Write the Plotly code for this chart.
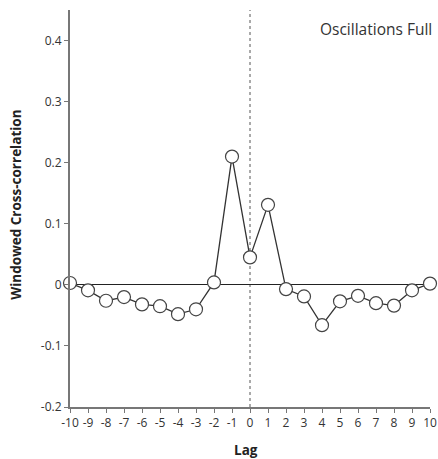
import plotly.graph_objects as go

lags = list(range(-10, 11))
xcorr = [0.003, -0.009, -0.026, -0.020, -0.032, -0.035, -0.048, -0.040, 0.004, 0.210,
         0.045, 0.131, -0.007, -0.019, -0.066, -0.027, -0.018, -0.030, -0.034, -0.009, 0.002]
ytick_vals = [-0.2, -0.1, 0, 0.1, 0.2, 0.3, 0.4]
ytick_text = ["-0.2", "-0.1", "0", "0.1", "0.2", "0.3", "0.4"]

font_family = "Open Sans, Liberation Sans, sans-serif"

fig = go.Figure()
fig.add_trace(go.Scatter(
    x=lags, y=xcorr, mode="lines+markers",
    line=dict(color="#333333", width=1.3),
    marker=dict(symbol="circle", size=13, color="white",
                line=dict(color="#444444", width=1.2)),
    cliponaxis=False, showlegend=False,
))

fig.add_shape(type="line", xref="x", yref="paper", x0=0, x1=0, y0=0, y1=1,
              line=dict(color="#555555", width=1, dash="dot"), layer="below")

fig.add_annotation(text="Oscillations Full", xref="paper", yref="paper",
                   x=1.012, y=0.985, xanchor="right", yanchor="top", showarrow=False,
                   font=dict(family=font_family, size=15.5, color="#333333"))

fig.add_annotation(text="<b>Lag</b>", xref="paper", yref="paper",
                   x=0.49, y=-0.108, xanchor="center", yanchor="middle", showarrow=False,
                   font=dict(family=font_family, size=13.5, color="#222222"))

fig.add_annotation(text="<b>Windowed Cross-correlation</b>", xref="paper", yref="paper",
                   x=-0.152, y=0.51, xanchor="center", yanchor="middle", showarrow=False,
                   textangle=-90,
                   font=dict(family=font_family, size=13.5, color="#222222"))

fig.update_layout(
    width=438, height=459,
    margin=dict(l=70, r=8, t=10, b=52),
    plot_bgcolor="white", paper_bgcolor="white",
    font=dict(family=font_family, size=12, color="#333333"),
    xaxis=dict(
        range=[-10, 10], tickmode="array", tickvals=lags,
        ticktext=[str(v) for v in lags], automargin=False,
        showline=True, linecolor="#777777", linewidth=2,
        ticks="outside", ticklen=4, tickcolor="#777777", tickwidth=1,
        showgrid=False, zeroline=False,
    ),
    yaxis=dict(
        range=[-0.2, 0.45], tickmode="array", tickvals=ytick_vals, ticktext=ytick_text,
        automargin=False,
        showline=True, linecolor="#777777", linewidth=2,
        ticks="outside", ticklen=4, tickcolor="#777777", tickwidth=1,
        showgrid=False, zeroline=True, zerolinecolor="#222222", zerolinewidth=1,
    ),
)

fig.write_html("out.html", config={"displayModeBar": False},
               post_script="document.body.style.margin='0';document.body.style.overflow='hidden';")
